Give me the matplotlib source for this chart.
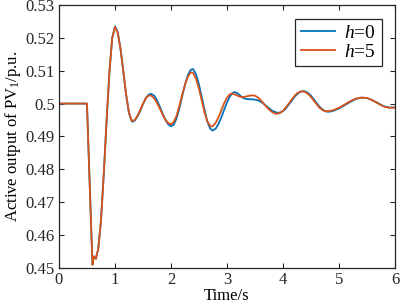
import matplotlib
matplotlib.use("Agg")
import matplotlib.pyplot as plt

plt.rcParams['font.family'] = ['Liberation Serif', 'DejaVu Serif']
plt.rcParams['mathtext.fontset'] = 'custom'
plt.rcParams['mathtext.rm'] = 'Liberation Serif'
plt.rcParams['mathtext.it'] = 'Liberation Serif:italic'

t_blue = [0.0, 0.50, 0.52, 0.55, 0.58, 0.60, 0.62, 0.64, 0.66, 0.68, 0.70, 0.75, 0.80, 0.85, 0.90, 0.95, 1.00,
          1.05, 1.10, 1.15, 1.20, 1.25, 1.30, 1.31, 1.35, 1.40, 1.45, 1.50, 1.55, 1.60, 1.64,
          1.70, 1.75, 1.80, 1.85, 1.90, 1.95, 2.00, 2.05, 2.10, 2.15, 2.20, 2.25, 2.30, 2.35, 2.38,
          2.40, 2.45, 2.50, 2.55, 2.60, 2.65, 2.70, 2.74, 2.80, 2.85, 2.90, 2.95, 3.00, 3.05, 3.10, 3.14,
          3.20, 3.25, 3.30, 3.35, 3.40, 3.45, 3.50, 3.55, 3.60, 3.65, 3.70, 3.75, 3.80, 3.85, 3.90, 3.95, 4.00,
          4.05, 4.10, 4.15, 4.20, 4.25, 4.30, 4.35, 4.40, 4.45, 4.50, 4.55, 4.60, 4.65, 4.70, 4.75, 4.80,
          4.85, 4.90, 5.00, 5.10, 5.20, 5.30, 5.40, 5.50, 5.60, 5.70, 5.80, 5.90, 6.00]
p_blue = [0.5000, 0.5000, 0.4900, 0.4750, 0.4600, 0.4510, 0.4535, 0.4532, 0.4528, 0.4545, 0.4555, 0.4643, 0.4785, 0.4946, 0.5093, 0.5198, 0.5235,
          0.5217, 0.5166, 0.5097, 0.5026, 0.4971, 0.4946, 0.4945, 0.4948, 0.4960, 0.4977, 0.4998, 0.5016, 0.5027, 0.5030,
          0.5024, 0.5010, 0.4991, 0.4970, 0.4951, 0.4937, 0.4931, 0.4936, 0.4955, 0.4985, 0.5022, 0.5057, 0.5086, 0.5102, 0.5105,
          0.5104, 0.5088, 0.5058, 0.5020, 0.4980, 0.4945, 0.4924, 0.4918, 0.4924, 0.4939, 0.4958, 0.4981, 0.5003, 0.5021, 0.5032, 0.5035,
          0.5030, 0.5022, 0.5016, 0.5014, 0.5013, 0.5013, 0.5012, 0.5010, 0.5006, 0.5000, 0.4993, 0.4986, 0.4979, 0.4975, 0.4972, 0.4973, 0.4977,
          0.4985, 0.4996, 0.5007, 0.5019, 0.5028, 0.5035, 0.5038, 0.5037, 0.5032, 0.5024, 0.5013, 0.5002, 0.4991, 0.4983, 0.4977, 0.4975,
          0.4976, 0.4978, 0.4985, 0.4995, 0.5005, 0.5014, 0.5018, 0.5017, 0.5010, 0.5001, 0.4992, 0.4988, 0.4988]

t_red = [0.0, 0.50, 0.52, 0.55, 0.58, 0.60, 0.62, 0.64, 0.66, 0.68, 0.70, 0.75, 0.80, 0.85, 0.90, 0.95, 1.00,
         1.05, 1.10, 1.15, 1.20, 1.25, 1.30, 1.31, 1.35, 1.40, 1.45, 1.50, 1.55, 1.60, 1.62,
         1.65, 1.70, 1.75, 1.80, 1.85, 1.90, 1.95, 2.00, 2.05, 2.10, 2.15, 2.20, 2.25, 2.30, 2.35, 2.37,
         2.40, 2.45, 2.50, 2.55, 2.60, 2.65, 2.70, 2.72, 2.75, 2.80, 2.85, 2.90, 2.95, 3.00, 3.05, 3.08,
         3.10, 3.15, 3.20, 3.25, 3.30, 3.35, 3.40, 3.45, 3.50, 3.55, 3.60, 3.65, 3.70, 3.75, 3.80, 3.85, 3.90, 3.95, 4.00,
         4.05, 4.10, 4.15, 4.20, 4.25, 4.30, 4.35, 4.40, 4.45, 4.50, 4.55, 4.60, 4.65, 4.70, 4.75, 4.80,
         4.85, 4.90, 5.00, 5.10, 5.20, 5.30, 5.40, 5.50, 5.60, 5.70, 5.80, 5.90, 6.00]
p_red = [0.5000, 0.5000, 0.4900, 0.4750, 0.4600, 0.4510, 0.4535, 0.4532, 0.4528, 0.4545, 0.4555, 0.4643, 0.4785, 0.4946, 0.5093, 0.5198, 0.5233,
         0.5215, 0.5165, 0.5097, 0.5027, 0.4973, 0.4948, 0.4947, 0.4950, 0.4962, 0.4980, 0.4999, 0.5016, 0.5024, 0.5025,
         0.5024, 0.5016, 0.5002, 0.4985, 0.4967, 0.4951, 0.4941, 0.4937, 0.4944, 0.4963, 0.4993, 0.5026, 0.5057, 0.5081, 0.5094, 0.5095,
         0.5092, 0.5074, 0.5045, 0.5009, 0.4973, 0.4946, 0.4932, 0.4930, 0.4932, 0.4942, 0.4959, 0.4980, 0.5001, 0.5018, 0.5028, 0.5030,
         0.5030, 0.5027, 0.5023, 0.5020, 0.5020, 0.5022, 0.5024, 0.5025, 0.5024, 0.5019, 0.5011, 0.5001, 0.4991, 0.4982, 0.4975, 0.4970, 0.4969, 0.4972, 0.4978,
         0.4988, 0.4999, 0.5011, 0.5022, 0.5031, 0.5036, 0.5037, 0.5035, 0.5029, 0.5020, 0.5009, 0.4998, 0.4988, 0.4981, 0.4977, 0.4977,
         0.4978, 0.4980, 0.4987, 0.4997, 0.5007, 0.5015, 0.5018, 0.5017, 0.5010, 0.5000, 0.4991, 0.4987, 0.4988]

labels = [r'$\mathit{h}$=0', r'$\mathit{h}$=5']
xticks = [0, 1, 2, 3, 4, 5, 6]
yticks = [0.45, 0.46, 0.47, 0.48, 0.49, 0.50, 0.51, 0.52, 0.53]
ytick_labels = ['0.45', '0.46', '0.47', '0.48', '0.49', '0.5', '0.51', '0.52', '0.53']

fig = plt.figure(figsize=(4.01, 3.07), dpi=100)
ax = fig.add_axes([0.147, 0.127, 0.838, 0.857])
ax.plot(t_blue, p_blue, color='#0072BD', lw=1.3, label=labels[0])
ax.plot(t_red, p_red, color='#D95319', lw=1.3, label=labels[1])
ax.set_xlim(0, 6)
ax.set_ylim(0.45, 0.53)
ax.set_xticks(xticks)
ax.set_yticks(yticks)
ax.set_yticklabels(ytick_labels)
ax.tick_params(direction='in', top=True, right=True, length=3.5, width=0.8,
               labelsize=12, colors='#262626', pad=3)
for s in ax.spines.values():
    s.set_linewidth(0.9)
    s.set_color('#262626')
ax.set_xlabel('Time/s', fontsize=12, labelpad=0)
ax.set_ylabel(r'Active output of PV$_1$/p.u.', fontsize=12, labelpad=2)
leg = ax.legend(loc='upper right', bbox_to_anchor=(0.961, 0.948), fontsize=14,
                frameon=True, fancybox=False, framealpha=1, edgecolor='#262626',
                handlelength=1.75, handletextpad=0.5, borderpad=0.3, labelspacing=0.05,
                borderaxespad=0)
leg.get_frame().set_linewidth(0.9)
fig.savefig('out.png', dpi=100)
